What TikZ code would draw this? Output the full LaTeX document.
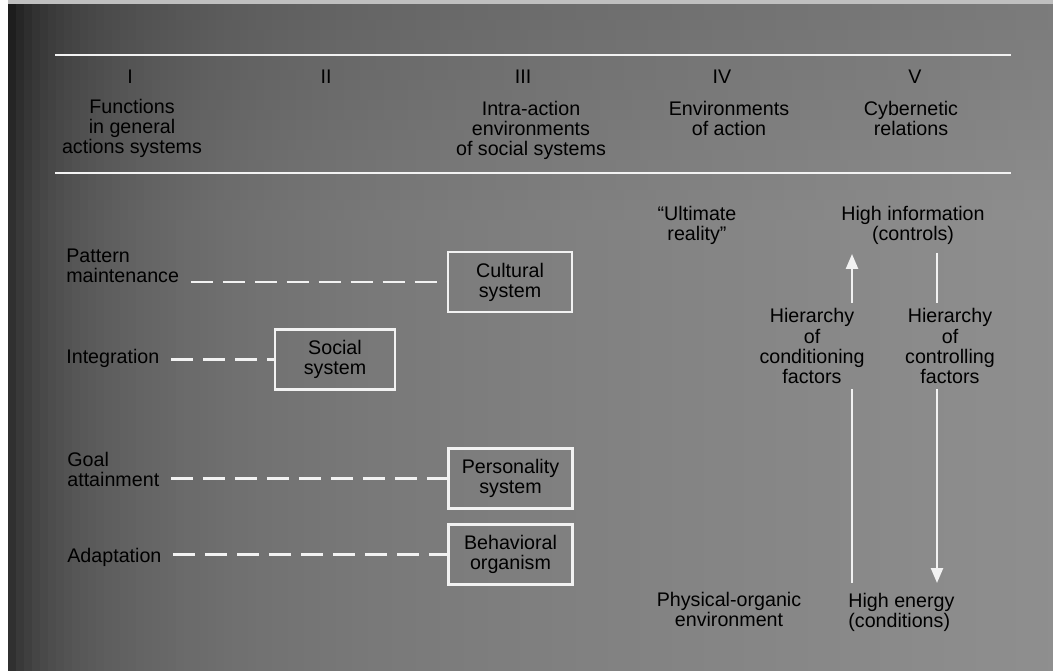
\documentclass[tikz,border=0pt]{standalone}
\usepackage{fontspec}
\setmainfont{Liberation Sans}
\usepackage{tikz}
\usetikzlibrary{arrows.meta,positioning}
\definecolor{chalk}{gray}{0.95}

\begin{document}
\begin{tikzpicture}
	[ x=0.02cm, y=-0.02cm,
		every node/.style={font=\fontsize{11.2}{11.4}\selectfont},
		heading/.style={align=center},
		function/.style={align=left,anchor=west,inner sep=0pt},
		system/.style={rectangle,draw=chalk,line width=1.4pt,minimum width=2.48cm,minimum height=1.2cm,align=center},
		level/.style={align=center},
		factors/.style={align=center,inner ysep=3pt},
		rule/.style={draw=chalk,line width=1.1pt},
		dashLink/.style={draw=chalk,line width=1.2pt,dash pattern=on 12.5pt off 5.7pt},
		hierLine/.style={draw=chalk,line width=1.4pt},
		hierArrow/.style={-{Triangle[width=0.24cm,length=0.3cm,fill=chalk]},draw=chalk,line width=1.4pt}]

	\useasboundingbox (0,0) rectangle (1053,671);
	% paper: dark at the left, a little darker along the top
	\foreach \col in {0,8,...,1048}{
		\pgfmathsetmacro\p{44+12*(1-\col/1053)+20*exp(-\col/120)+10*exp(-\col/20)}
		\path[fill=black!\p] (\col,215) rectangle (\col+8.5,671);
		\foreach \row in {0,10,...,210}{
			\pgfmathsetmacro\q{\p+8*(1-(\row+5)/220)}
			\path[fill=black!\q] (\col,\row) rectangle (\col+8.5,\row+10.5);
		}
	}
	\path[fill=white] (0,0) rectangle (8,671);
	\path[fill=black!25] (8,0) rectangle (1053,4);

	\draw[rule] (55,55) -- (1011,55);
	\draw[rule] (55,173) -- (1011,173);

	\node (numI) at (130,77) {I};
	\node (numII) at (326,77) {II};
	\node (numIII) at (523,77) {III};
	\node (numIV) at (722,77) {IV};
	\node (numV) at (915,77) {V};
	\node[heading] (headI) at (132,128) {Functions\\in general\\actions systems};
	\node[heading] (headIII) at (531,130) {Intra-action\\environments\\of social systems};
	\node[heading] (headIV) at (729,118.5) {Environments\\of action};
	\node[heading] (headV) at (911,118.5) {Cybernetic\\relations};

	\node[function] (pattern) at (66,266) {Pattern\\maintenance};
	\node[function] (integration) at (66,358.5) {Integration};
	\node[function] (goal) at (67,469) {Goal\\attainment};
	\node[function] (adaptation) at (67,557.5) {Adaptation};

	\node[system] (cultural) at (510,282) {Cultural\\system};
	\node[system,minimum width=2.4cm] (social) at (335,359.5) {Social\\system};
	\node[system] (personality) at (510.5,478.5) {Personality\\system};
	\node[system] (behavioral) at (510.5,554.5) {Behavioral\\organism};

	\draw[dashLink] ([xshift=6.5pt]pattern.east |- cultural.west) -- (cultural.west);
	\draw[dashLink] ([xshift=6.5pt]integration.east |- social.west) -- (social.west);
	\draw[dashLink] ([xshift=6.5pt]goal.east |- personality.west) -- (personality.west);
	\draw[dashLink] ([xshift=6.5pt]adaptation.east |- behavioral.west) -- (behavioral.west);

	\node[level] (ultimate) at (697,225.5) {``Ultimate\\reality''};
	\node[level] (information) at (913,225.5) {High information\\(controls)};
	\node[factors] (conditioning) at (812,346) {Hierarchy\\of\\conditioning\\factors};
	\node[factors] (controlling) at (950,346) {Hierarchy\\of\\controlling\\factors};
	\node[level] (physical) at (729,609) {Physical-organic\\environment};
	\node[function] (energy) at (848,612.5) {High energy\\(conditions)};

	\coordinate (condFoot) at (852,583);
	\coordinate (condHead) at (852,254);
	\coordinate (ctrlHead) at (937,253);
	\coordinate (ctrlFoot) at (937,583);
	\draw[hierLine] (condFoot) -- (condFoot |- conditioning.south);
	\draw[hierArrow] (condFoot |- conditioning.north) -- (condHead);
	\draw[hierLine] (ctrlHead) -- (ctrlHead |- controlling.north);
	\draw[hierArrow] (ctrlHead |- controlling.south) -- (ctrlFoot);
\end{tikzpicture}
\end{document}
